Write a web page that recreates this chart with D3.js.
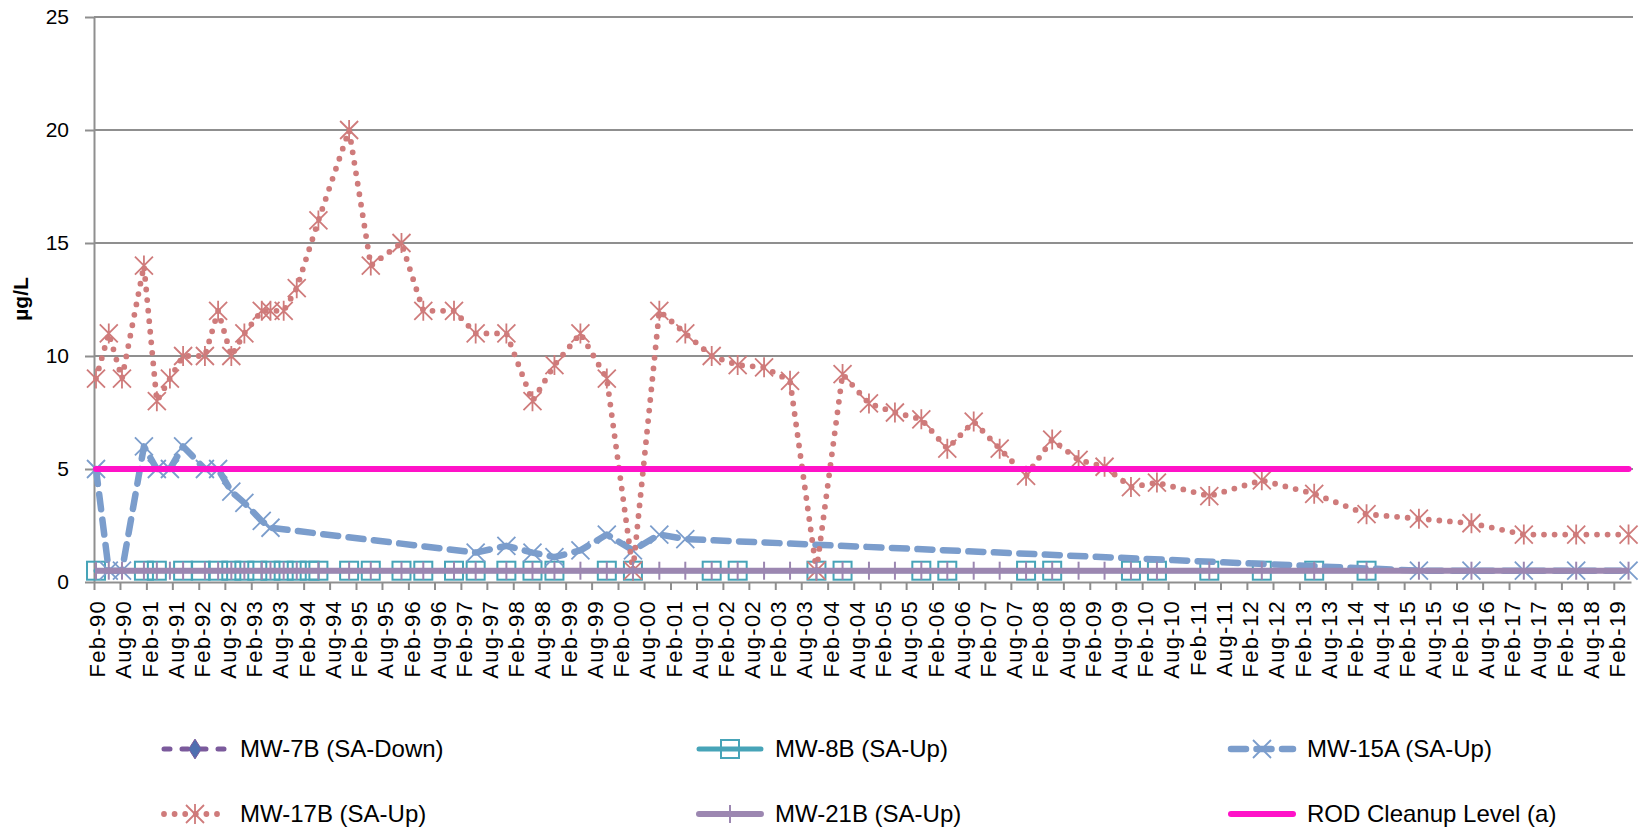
<!DOCTYPE html>
<html>
<head>
<meta charset="utf-8">
<script src="https://cdn.jsdelivr.net/npm/d3@7"></script>
<style>
  html, body { margin: 0; padding: 0; background: #ffffff; }
  svg { display: block; font-family: "Liberation Sans", Arial, sans-serif; }
</style>
</head>
<body>
<svg id="chart" width="1644" height="835"></svg>
<script>
// ---- Sampling data (dates as year-month, concentrations in µg/L) ----
const mw7bDates = [];
const mw7bValues = [];

const mw8bDates = [
  "1990-02", "1991-01", "1991-04", "1991-10", "1992-02", "1992-06", "1992-09", "1992-12",
  "1993-03", "1993-06", "1993-09", "1993-12", "1994-03", "1994-05", "1994-12", "1995-05",
  "1995-12", "1996-05", "1996-12", "1997-05", "1997-12", "1998-06", "1998-11", "1999-11",
  "2000-05", "2001-11", "2002-05", "2003-11", "2004-05", "2005-11", "2006-05", "2007-11",
  "2008-05", "2009-11", "2010-05", "2011-05", "2012-05", "2013-05", "2014-05"
];
const mw8bValues = [
  0.5, 0.5, 0.5, 0.5, 0.5, 0.5, 0.5, 0.5,
  0.5, 0.5, 0.5, 0.5, 0.5, 0.5, 0.5, 0.5,
  0.5, 0.5, 0.5, 0.5, 0.5, 0.5, 0.5, 0.5,
  0.5, 0.5, 0.5, 0.5, 0.5, 0.5, 0.5, 0.5,
  0.5, 0.5, 0.5, 0.5, 0.5, 0.5, 0.5
];

const mw15aDates = [
  "1990-02", "1990-05", "1990-08", "1991-01", "1991-04", "1991-07", "1991-10", "1992-03",
  "1992-06", "1992-09", "1992-12", "1993-04", "1993-06", "1997-05", "1997-12", "1998-06",
  "1998-11", "1999-05", "1999-11", "2000-05", "2000-11", "2001-05", "2015-05", "2016-05",
  "2017-05", "2018-05", "2019-05"
];
const mw15aValues = [
  5, 0.5, 0.5, 6, 5, 5, 6, 5,
  5, 4, 3.5, 2.7, 2.4, 1.3, 1.6, 1.3,
  1.1, 1.4, 2.1, 1.4, 2.1, 1.9, 0.5, 0.5,
  0.5, 0.5, 0.5
];

const mw17bDates = [
  "1990-02", "1990-05", "1990-08", "1991-01", "1991-04", "1991-07", "1991-10", "1992-03",
  "1992-06", "1992-09", "1992-12", "1993-04", "1993-06", "1993-09", "1993-12", "1994-05",
  "1994-12", "1995-05", "1995-12", "1996-05", "1996-12", "1997-05", "1997-12", "1998-06",
  "1998-11", "1999-05", "1999-11", "2000-05", "2000-11", "2001-05", "2001-11", "2002-05",
  "2002-11", "2003-05", "2003-11", "2004-05", "2004-11", "2005-05", "2005-11", "2006-05",
  "2006-11", "2007-05", "2007-11", "2008-05", "2008-11", "2009-05", "2009-11", "2010-05",
  "2011-05", "2012-05", "2013-05", "2014-05", "2015-05", "2016-05", "2017-05", "2018-05",
  "2019-05"
];
const mw17bValues = [
  9, 11, 9, 14, 8, 9, 10, 10,
  12, 10, 11, 12, 12, 12, 13, 16,
  20, 14, 15, 12, 12, 11, 11, 8,
  9.6, 11, 9, 0.5, 12, 11, 10, 9.6,
  9.5, 8.9, 0.5, 9.2, 7.9, 7.5, 7.2, 5.9,
  7.1, 5.9, 4.7, 6.3, 5.4, 5.1, 4.2, 4.4,
  3.8, 4.5, 3.9, 3.0, 2.8, 2.6, 2.1, 2.1,
  2.1
];

const mw21bDates = mw17bDates.slice();
const mw21bValues = [
  0.5, 0.5, 0.5, 0.5, 0.5, 0.5, 0.5, 0.5,
  0.5, 0.5, 0.5, 0.5, 0.5, 0.5, 0.5, 0.5,
  0.5, 0.5, 0.5, 0.5, 0.5, 0.5, 0.5, 0.5,
  0.5, 0.5, 0.5, 0.5, 0.5, 0.5, 0.5, 0.5,
  0.5, 0.5, 0.5, 0.5, 0.5, 0.5, 0.5, 0.5,
  0.5, 0.5, 0.5, 0.5, 0.5, 0.5, 0.5, 0.5,
  0.5, 0.5, 0.5, 0.5, 0.5, 0.5, 0.5, 0.5,
  0.5
];

const rodDates = ["1990-02", "2019-05"];
const rodValues = [5, 5];

const seriesNames = [
  "MW-7B (SA-Down)", "MW-8B (SA-Up)", "MW-15A (SA-Up)",
  "MW-17B (SA-Up)", "MW-21B (SA-Up)", "ROD Cleanup Level (a)"
];
const yTickValues = [0, 5, 10, 15, 20, 25];
const yAxisTitle = "µg/L";

// ---- Drawing ----
const svg = d3.select("#chart");
const parseMonth = d3.timeParse("%Y-%m");
const midMonth = s => d3.timeDay.offset(parseMonth(s), 14);

const x = d3.scaleTime()
  .domain([new Date(1990, 1, 1), new Date(2019, 5, 1)])
  .range([94, 1631]);
const y = d3.scaleLinear().domain([0, 25]).range([582, 17]);

const gridColor = "#8f8f8f";

// horizontal gridlines
svg.append("g")
  .selectAll("line")
  .data(yTickValues.filter(v => v > 0))
  .join("line")
  .attr("x1", x.range()[0]).attr("x2", 1633)
  .attr("y1", d => y(d)).attr("y2", d => y(d))
  .attr("stroke", gridColor).attr("stroke-width", 2);

// y axis
const yAxis = svg.append("g")
  .attr("transform", `translate(${x.range()[0]},0)`)
  .call(d3.axisLeft(y).tickValues(yTickValues).tickSize(9).tickSizeOuter(0).tickPadding(16));
yAxis.select(".domain").attr("stroke", gridColor).attr("stroke-width", 2);
yAxis.selectAll(".tick line").attr("stroke", gridColor).attr("stroke-width", 2);
yAxis.selectAll(".tick text")
  .attr("font-size", 21).attr("fill", "#000")
  .attr("font-family", "'Liberation Sans', Arial, sans-serif");

// x axis: a tick every six months, starting February 1990
const tickDates = d3.timeMonth.range(new Date(1990, 1, 1), new Date(2019, 2, 1), 6);
const xAxis = svg.append("g")
  .attr("transform", `translate(0,${y(0)})`)
  .call(d3.axisBottom(x).tickValues(tickDates).tickSize(8).tickSizeOuter(0)
    .tickFormat(d3.timeFormat("%b-%y")));
xAxis.select(".domain").attr("stroke", gridColor).attr("stroke-width", 2);
xAxis.selectAll(".tick line").attr("stroke", gridColor).attr("stroke-width", 2);
xAxis.selectAll(".tick text")
  .attr("transform", "rotate(-90)")
  .attr("text-anchor", "end")
  .attr("x", -18).attr("y", 3).attr("dy", "0.35em")
  .attr("font-size", 22).attr("letter-spacing", 1.3)
  .attr("fill", "#000")
  .attr("font-family", "'Liberation Sans', Arial, sans-serif");

// y axis title
svg.append("text")
  .attr("transform", "translate(28,299) rotate(-90)")
  .attr("text-anchor", "middle")
  .attr("font-size", 21).attr("font-weight", "bold")
  .text(yAxisTitle);

// marker shapes
function drawMarker(g, type, cx, cy, st, scale = 1) {
  const s = 9 * scale;
  if (type === "square") {
    g.append("rect").attr("x", cx - s).attr("y", cy - s).attr("width", 2 * s).attr("height", 2 * s)
      .attr("fill", "none").attr("stroke", st.color).attr("stroke-width", 2);
  } else if (type === "x" || type === "asterisk") {
    g.append("path")
      .attr("d", `M${cx - s},${cy - s}L${cx + s},${cy + s}M${cx - s},${cy + s}L${cx + s},${cy - s}` +
        (type === "asterisk" ? `M${cx},${cy - s - 1}L${cx},${cy + s + 1}` : ""))
      .attr("fill", "none").attr("stroke", st.color).attr("stroke-width", 1.8);
  } else if (type === "bar") {
    g.append("line").attr("x1", cx).attr("x2", cx).attr("y1", cy - s).attr("y2", cy + s)
      .attr("stroke", st.color).attr("stroke-width", 2);
  } else if (type === "diamond") {
    g.append("path")
      .attr("d", `M${cx},${cy - s * 1.1}L${cx + s * 0.7},${cy}L${cx},${cy + s * 1.1}L${cx - s * 0.7},${cy}Z`)
      .attr("fill", st.markerFill).attr("stroke", st.color).attr("stroke-width", 1);
  }
}

const styles = [
  { color: "#7B5A9C", width: 5, dash: "6 12", cap: "round", marker: "diamond", markerFill: "#4F6FB0" },
  { color: "#47A4B8", width: 5, dash: null, cap: "round", marker: "square" },
  { color: "#7B9DCC", width: 6.5, dash: "15 10.5", cap: "round", marker: "x" },
  { color: "#CF7B7B", width: 5.8, dash: "0 10.6", cap: "round", marker: "asterisk" },
  { color: "#9C87B1", width: 6, dash: null, cap: "butt", marker: "bar" },
  { color: "#FF12C8", width: 6, dash: null, cap: "round", marker: null }
];

const seriesData = [
  [mw7bDates, mw7bValues],
  [mw8bDates, mw8bValues],
  [mw15aDates, mw15aValues],
  [mw17bDates, mw17bValues],
  [mw21bDates, mw21bValues],
  [rodDates, rodValues]
];

const line = d3.line().x(d => x(d.date)).y(d => y(d.value));
const plot = svg.append("g");

seriesData.forEach(([dates, values], i) => {
  const st = styles[i];
  const pts = dates.map((dt, k) => ({ date: midMonth(dt), value: values[k] }));
  if (!pts.length) return;
  const g = plot.append("g");
  g.append("path").datum(pts)
    .attr("d", line)
    .attr("fill", "none")
    .attr("stroke", st.color)
    .attr("stroke-width", st.width)
    .attr("stroke-linecap", st.cap)
    .attr("stroke-linejoin", "round")
    .attr("stroke-dasharray", st.dash);
  if (st.marker) {
    pts.forEach(p => drawMarker(g, st.marker, x(p.date), y(p.value), st));
  }
});

// legend
const legendPos = [
  [161, 749], [696, 749], [1228, 749],
  [161, 814], [696, 814], [1228, 814]
];
const legendSymbolWidth = 68;
seriesNames.forEach((name, i) => {
  const st = styles[i];
  const [lx, ly] = legendPos[i];
  const g = svg.append("g");
  g.append("line")
    .attr("x1", lx + 3).attr("x2", lx + legendSymbolWidth - 3)
    .attr("y1", ly).attr("y2", ly)
    .attr("stroke", st.color)
    .attr("stroke-width", st.width)
    .attr("stroke-linecap", st.cap === "butt" ? "round" : st.cap)
    .attr("stroke-dasharray", st.dash);
  if (st.marker) drawMarker(g, st.marker, lx + legendSymbolWidth / 2, ly, st);
  g.append("text")
    .attr("x", lx + legendSymbolWidth + 11).attr("y", ly)
    .attr("dy", "0.35em")
    .attr("font-size", 24)
    .attr("fill", "#000")
    .text(name);
});
</script>
</body>
</html>
